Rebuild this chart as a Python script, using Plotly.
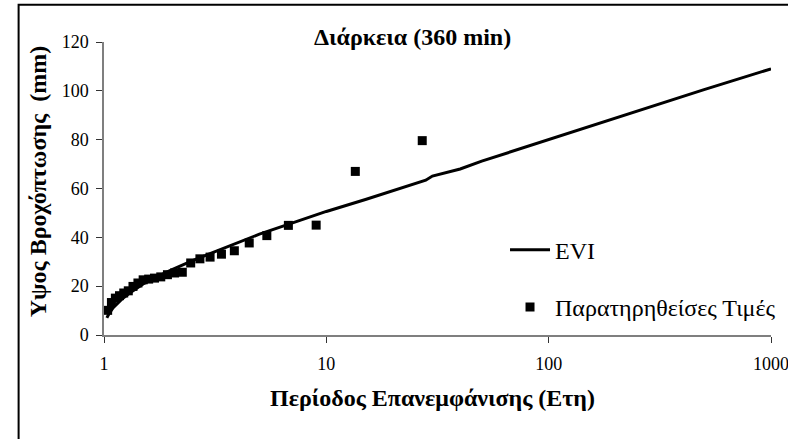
import plotly.graph_objects as go

# Observed rainfall depths (mm) for 360-min duration, with return periods T = (n+1)/m
obs_T = [27.0, 13.5, 9.0, 6.75, 5.4, 4.5, 3.857, 3.375, 3.0, 2.7, 2.4545, 2.25, 2.077,
         1.929, 1.8, 1.6875, 1.588, 1.5, 1.421, 1.35, 1.286, 1.227, 1.174, 1.125, 1.08, 1.0385]
obs_depth = [79.6, 67.0, 45.0, 44.9, 40.7, 37.7, 34.5, 33.1, 31.9, 31.2, 29.5, 25.7, 25.4,
             24.7, 23.8, 23.3, 22.9, 22.6, 21.3, 19.9, 18.1, 17.2, 16.1, 15.1, 13.3, 10.1]

# EVI fitted depths
evi_T = [1.03, 1.05, 1.1, 1.2, 1.3, 1.5, 1.75, 2, 2.5, 3, 4, 5, 7, 10, 15, 20, 25, 28, 30,
         40, 50, 100, 200, 500, 1000]
evi_depth = [7.0, 8.5, 11.2, 14.6, 17.1, 20.9, 24.0, 26.6, 30.5, 33.3, 37.8, 41.3, 45.8,
             50.6, 55.5, 59.2, 62.0, 63.4, 65.1, 68.0, 71.2, 80.0, 89.0, 100.5, 109.0]

x_ticks = [1, 10, 100, 1000]
x_tick_text = ["1", "10", "100", "1000"]
y_ticks = [0, 20, 40, 60, 80, 100, 120]

title_text = "Διάρκεια (360 min)"
x_title = "Περίοδος Επανεμφάνισης (Ετη)"
y_title = "Υψος Βροχόπτωσης  (mm)"

FONT = "Liberation Serif"

fig = go.Figure()
fig.add_trace(go.Scatter(
    x=evi_T, y=evi_depth, mode="lines", name="EVI", legendgroup="evi",
    line=dict(color="black", width=3),
))
fig.add_trace(go.Scatter(
    x=obs_T, y=obs_depth, mode="markers", name="Παρατηρηθείσες Τιμές", legendgroup="obs",
    marker=dict(symbol="square", size=9, color="black"),
))

W, H = 788, 439
ml, mr, mt, mb = 103.5, 16.7, 42.3, 103.7
pw, ph = W - ml - mr, H - mt - mb


def px_x(p):
    return (p - ml) / pw


def px_y(p):
    return (H - mb - p) / ph


fig.update_layout(
    width=W, height=H,
    margin=dict(l=ml, r=mr, t=mt, b=mb, pad=0, autoexpand=False),
    paper_bgcolor="white", plot_bgcolor="white",
    font=dict(family=FONT, color="black", size=18),
    showlegend=True,
    legend=dict(
        x=px_x(505), y=px_y(228), xanchor="left", yanchor="top",
        font=dict(family=FONT, size=24, color="black"),
        bgcolor="rgba(0,0,0,0)", borderwidth=0,
        tracegroupgap=23, itemwidth=40,
    ),
    xaxis=dict(
        type="log", range=[0, 3], automargin=False,
        tickvals=x_ticks, ticktext=x_tick_text,
        showgrid=False, zeroline=False,
        showline=True, linecolor="#7f7f7f", linewidth=1.5,
        ticks="outside", ticklen=6, tickcolor="#333333", tickwidth=1,
        tickfont=dict(family=FONT, size=18, color="black"),
        ticklabelstandoff=6, ticklabeloverflow="allow",
    ),
    yaxis=dict(
        range=[0, 120], tickvals=y_ticks, automargin=False,
        showgrid=False, zeroline=False,
        showline=True, linecolor="#7f7f7f", linewidth=1.5,
        ticks="outside", ticklen=6, tickcolor="#333333", tickwidth=1,
        tickfont=dict(family=FONT, size=18, color="black"),
        ticklabelstandoff=4,
    ),
    annotations=[
        dict(text="<b>%s</b>" % title_text, xref="paper", yref="paper",
             x=px_x(412), y=px_y(37), xanchor="center", yanchor="middle",
             showarrow=False, font=dict(family=FONT, size=24, color="black")),
        dict(text="<b>%s</b>" % x_title, xref="paper", yref="paper",
             x=px_x(432), y=px_y(398), xanchor="center", yanchor="middle",
             showarrow=False, font=dict(family=FONT, size=24, color="black")),
        dict(text="<b>%s</b>" % y_title, xref="paper", yref="paper",
             x=px_x(37), y=px_y(182), xanchor="center", yanchor="middle",
             textangle=-90, showarrow=False,
             font=dict(family=FONT, size=24, color="black")),
    ],
    shapes=[
        # chart frame (top and left edges fall inside the page)
        dict(type="rect", xref="paper", yref="paper",
             x0=px_x(18), x1=px_x(W + 20), y0=px_y(H + 20), y1=px_y(5),
             line=dict(color="black", width=2), fillcolor="rgba(0,0,0,0)", layer="below"),
    ],
)

fig.write_html("out.html")
